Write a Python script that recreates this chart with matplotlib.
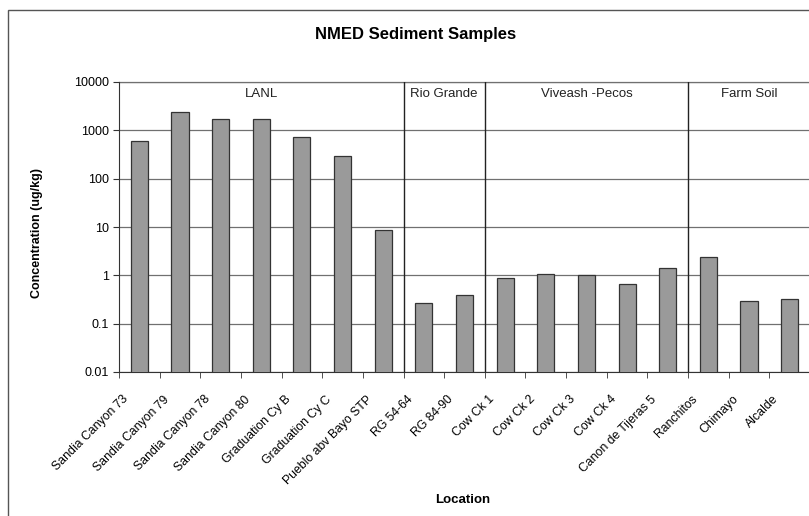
import matplotlib
matplotlib.use("Agg")
import matplotlib.pyplot as plt
import matplotlib.transforms as mtransforms
from matplotlib.patches import Rectangle
import numpy as np

plt.rcParams['font.family'] = ['Liberation Sans', 'DejaVu Sans']

# --- data ---
locations = [
    "Sandia Canyon 73", "Sandia Canyon 79", "Sandia Canyon 78", "Sandia Canyon 80",
    "Graduation Cy B", "Graduation Cy C", "Pueblo abv Bayo STP",
    "RG 54-64", "RG 84-90",
    "Cow Ck 1", "Cow Ck 2", "Cow Ck 3", "Cow Ck 4", "Canon de Tijeras 5",
    "Ranchitos", "Chimayo", "Alcalde",
]
concentration = [
    610, 2430, 1740, 1750, 720, 300, 8.7,
    0.27, 0.39,
    0.87, 1.08, 1.02, 0.67, 1.42,
    2.4, 0.29, 0.33,
]
groups = ["LANL", "Rio Grande", "Viveash -Pecos", "Farm Soil"]
group_sizes = [7, 2, 5, 3]
yticks = [0.01, 0.1, 1, 10, 100, 1000, 10000]
ytick_labels = ["0.01", "0.1", "1", "10", "100", "1000", "10000"]

W, H = 809, 516
fig = plt.figure(figsize=(W / 100, H / 100), dpi=100)

# chart area border (runs off the right / bottom edges)
fig.patches.append(Rectangle((8 / W, -0.05), 1.1, 1 - 10 / H + 0.05,
                             transform=fig.transFigure, fill=False,
                             edgecolor="#555555", linewidth=1.0))

left, right, top, bottom = 119, 810, 82, 372
ax = fig.add_axes([left / W, 1 - bottom / H, (right - left) / W, (bottom - top) / H])

n = len(locations)
x = np.arange(n)
ax.bar(x, concentration, width=0.42, color="#9a9a9a", edgecolor="#333333",
       linewidth=0.9, zorder=3)

ax.set_yscale("log")
ax.set_ylim(0.01, 10000)
ax.set_xlim(-0.5, n - 0.5)
ax.set_yticks(yticks)
ax.set_yticklabels(ytick_labels, fontsize=9)
ax.minorticks_off()
ax.yaxis.grid(True, color="#707070", linewidth=0.9, zorder=0)
ax.tick_params(axis="y", direction="out", length=4, color="#333333", pad=3)

# category labels at centres, tick marks at boundaries
ax.set_xticks(x)
ax.set_xticklabels(locations, rotation=45, ha="right", va="top",
                   rotation_mode="anchor", fontsize=8.8)
ax.tick_params(axis="x", which="major", length=0, pad=6)
shift = mtransforms.ScaledTranslation(-17 / 100, -13 / 100, fig.dpi_scale_trans)
for lbl in ax.get_xticklabels():
    lbl.set_transform(lbl.get_transform() + shift)
ax.set_xticks(np.arange(n + 1) - 0.5, minor=True)
ax.tick_params(axis="x", which="minor", direction="out", length=4, color="#333333")

for side in ["top", "right"]:
    ax.spines[side].set_visible(False)
ax.spines["left"].set_color("#333333")
ax.spines["bottom"].set_color("#333333")
ax.axhline(10000, color="#707070", linewidth=0.9, zorder=0, clip_on=False)

# group dividers and headings
start = 0
for name, size in zip(groups, group_sizes):
    end = start + size
    if end < n:
        ax.axvline(end - 0.5, color="#222222", linewidth=1.0, zorder=4)
    ax.text((start + end - 1) / 2, 0.98, name, transform=ax.get_xaxis_transform(),
            ha="center", va="top", fontsize=9.5, color="#222222")
    start = end

ax.set_ylabel("Concentration (ug/kg)", fontsize=9, fontweight="bold")
ax.yaxis.set_label_coords(-0.11, 0.48)
fig.text(463 / W, 1 - 500 / H, "Location", ha="center", va="center",
         fontsize=9.5, fontweight="bold")
fig.text(416 / W, 1 - 35 / H, "NMED Sediment Samples", ha="center", va="center",
         fontsize=12, fontweight="bold")

fig.savefig("out.png", dpi=100)
